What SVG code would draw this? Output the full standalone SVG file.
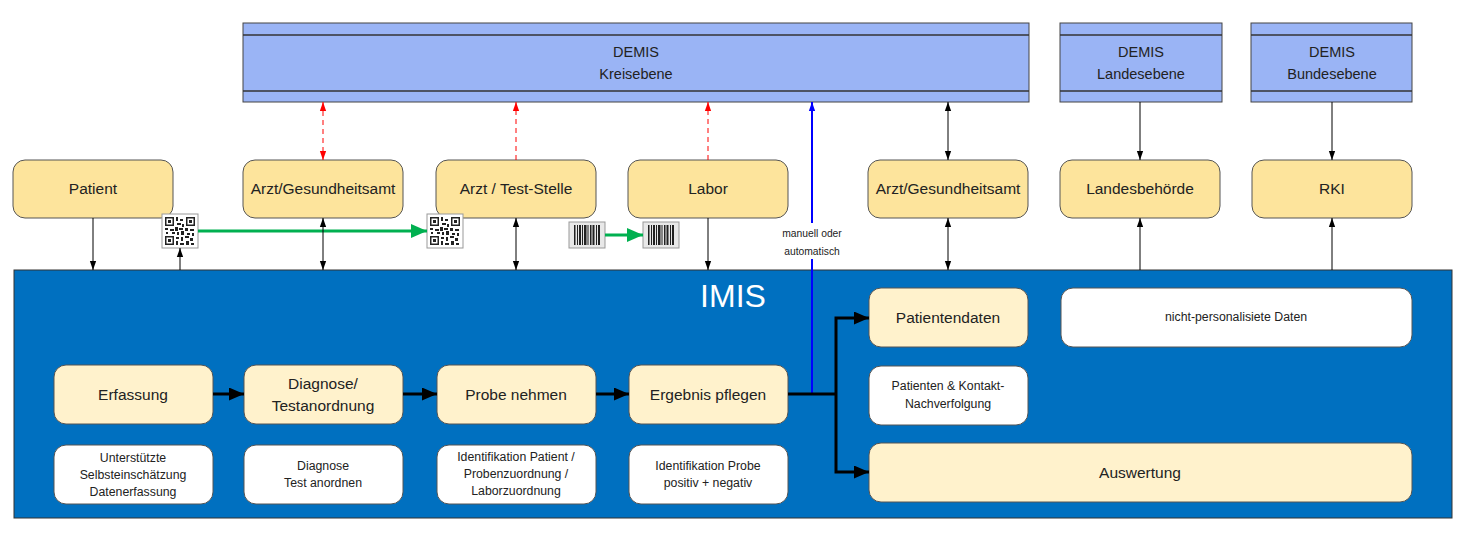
<svg xmlns="http://www.w3.org/2000/svg" width="1465" height="533" viewBox="0 0 1465 533">
<style>
text{font-family:"Liberation Sans",Arial,sans-serif;text-anchor:middle;fill:#222}
.demis{fill:#9ab4f5;stroke:#444;stroke-width:1}
.dl{stroke:#333;stroke-width:1.3}
.top{fill:#fde49c;stroke:#555;stroke-width:1}
.inn{fill:#fff2cc;stroke:#555;stroke-width:1}
.wh{fill:#fff;stroke:#555;stroke-width:1}
.t14{font-size:15.5px}
.t15{font-size:15.5px}
.t11{font-size:12.3px}
.t9{font-size:10.3px}
.dm{font-size:14.5px}
.thin{stroke:#000;stroke-width:1;fill:none}
.red{stroke:#f00;stroke-width:1;stroke-dasharray:5,4;fill:none}
.thick{stroke:#000;stroke-width:3;fill:none}
.grn{stroke:#00b050;stroke-width:3;fill:none}
</style>
<defs>
<marker id="a" viewBox="0 0 10 10" refX="10" refY="5" markerWidth="9" markerHeight="9" markerUnits="userSpaceOnUse" orient="auto-start-reverse"><path d="M0,1.5 L10,5 L0,8.5 z" fill="#000"/></marker>
<marker id="ar" viewBox="0 0 10 10" refX="10" refY="5" markerWidth="9" markerHeight="9" markerUnits="userSpaceOnUse" orient="auto-start-reverse"><path d="M0,1.5 L10,5 L0,8.5 z" fill="#f00"/></marker>
<marker id="ab" viewBox="0 0 10 10" refX="10" refY="5" markerWidth="9" markerHeight="9" markerUnits="userSpaceOnUse" orient="auto"><path d="M0,1.5 L10,5 L0,8.5 z" fill="#00f"/></marker>
<marker id="at" viewBox="0 0 10 10" refX="10" refY="5" markerWidth="15" markerHeight="13" markerUnits="userSpaceOnUse" orient="auto" preserveAspectRatio="none"><path d="M0,0 L10,5 L0,10 z" fill="#000"/></marker>
<marker id="ag" viewBox="0 0 10 10" refX="10" refY="5" markerWidth="16" markerHeight="14" markerUnits="userSpaceOnUse" orient="auto" preserveAspectRatio="none"><path d="M0,0 L10,5 L0,10 z" fill="#00b050"/></marker>
<g id="qr">
<rect x="0" y="0" width="36" height="34" fill="#fff" stroke="#999" stroke-width="1"/>
<g fill="#222">
<rect x="3" y="3" width="9" height="9"/><rect x="24" y="3" width="9" height="9"/><rect x="3" y="22" width="9" height="9"/>
</g>
<g fill="#fff"><rect x="4.5" y="4.5" width="6" height="6"/><rect x="25.5" y="4.5" width="6" height="6"/><rect x="4.5" y="23.5" width="6" height="6"/></g>
<g fill="#222"><rect x="6" y="6" width="3" height="3"/><rect x="27" y="6" width="3" height="3"/><rect x="6" y="25" width="3" height="3"/>
<rect x="14" y="3" width="2" height="4"/><rect x="18" y="5" width="3" height="2"/><rect x="15" y="9" width="4" height="2"/><rect x="20" y="10" width="2" height="3"/>
<rect x="3" y="14" width="3" height="2"/><rect x="8" y="15" width="4" height="2"/><rect x="13" y="13" width="3" height="4"/><rect x="17" y="14" width="4" height="2"/><rect x="23" y="14" width="3" height="3"/><rect x="28" y="15" width="4" height="2"/>
<rect x="4" y="18" width="2" height="2"/><rect x="10" y="18" width="3" height="2"/><rect x="15" y="18" width="2" height="3"/><rect x="19" y="17" width="3" height="4"/><rect x="25" y="19" width="3" height="2"/><rect x="30" y="19" width="2" height="3"/>
<rect x="14" y="23" width="3" height="2"/><rect x="19" y="23" width="2" height="4"/><rect x="23" y="22" width="4" height="2"/><rect x="28" y="24" width="3" height="3"/>
<rect x="14" y="27" width="2" height="4"/><rect x="18" y="29" width="4" height="2"/><rect x="24" y="27" width="3" height="4"/><rect x="29" y="29" width="3" height="2"/>
</g>
</g>
<g id="bc">
<rect x="0" y="0" width="36" height="26" fill="#e8e8e8" stroke="#999" stroke-width="1"/>
<g fill="#222">
<rect x="5" y="3" width="1.5" height="20"/><rect x="8" y="3" width="1" height="20"/><rect x="10" y="3" width="2" height="20"/><rect x="13" y="3" width="1" height="20"/><rect x="15" y="3" width="2.5" height="20"/><rect x="18.5" y="3" width="1" height="20"/><rect x="21" y="3" width="1.5" height="20"/><rect x="23.5" y="3" width="2" height="20"/><rect x="27" y="3" width="1" height="20"/><rect x="29" y="3" width="2" height="20"/>
</g>
</g>
</defs>
<rect width="1465" height="533" fill="#fff"/>

<g id="demis-kreis">
<rect class="demis" x="243" y="23" width="786" height="79"/>
<line class="dl" x1="243" y1="35" x2="1029" y2="35" stroke-width="2"/>
<line class="dl" x1="243" y1="91" x2="1029" y2="91"/>
<text class="dm" x="636" y="57">DEMIS</text>
<text class="dm" x="636" y="79">Kreisebene</text>
</g>
<g id="demis-land">
<rect class="demis" x="1060" y="23" width="162" height="79"/>
<line class="dl" x1="1060" y1="35" x2="1222" y2="35" stroke-width="2"/>
<line class="dl" x1="1060" y1="91" x2="1222" y2="91"/>
<text class="dm" x="1141" y="57">DEMIS</text>
<text class="dm" x="1141" y="79">Landesebene</text>
</g>
<g id="demis-bund">
<rect class="demis" x="1251" y="23" width="161" height="79"/>
<line class="dl" x1="1251" y1="35" x2="1412" y2="35" stroke-width="2"/>
<line class="dl" x1="1251" y1="91" x2="1412" y2="91"/>
<text class="dm" x="1332" y="57">DEMIS</text>
<text class="dm" x="1332" y="79">Bundesebene</text>
</g>

<g id="imis">
<rect x="14" y="270" width="1438" height="248" fill="#0070c0" stroke="#333" stroke-width="1"/>
<text x="733" y="307" font-size="32" style="fill:#fff">IMIS</text>
</g>

<g id="patient"><rect class="top" x="13" y="160" width="160" height="58" rx="12"/><text class="t14" x="93" y="194">Patient</text></g>
<g id="arzt1"><rect class="top" x="243" y="160" width="160" height="58" rx="12"/><text class="t14" x="323" y="194">Arzt/Gesundheitsamt</text></g>
<g id="teststelle"><rect class="top" x="436" y="160" width="160" height="58" rx="12"/><text class="t14" x="516" y="194">Arzt / Test-Stelle</text></g>
<g id="labor"><rect class="top" x="628" y="160" width="160" height="58" rx="12"/><text class="t14" x="708" y="194">Labor</text></g>
<g id="arzt2"><rect class="top" x="868" y="160" width="160" height="58" rx="12"/><text class="t14" x="948" y="194">Arzt/Gesundheitsamt</text></g>
<g id="landesbehoerde"><rect class="top" x="1060" y="160" width="160" height="58" rx="12"/><text class="t14" x="1140" y="194">Landesbehörde</text></g>
<g id="rki"><rect class="top" x="1252" y="160" width="160" height="58" rx="12"/><text class="t14" x="1332" y="194">RKI</text></g>

<g id="erfassung"><rect class="inn" x="54" y="365" width="159" height="59" rx="12"/><text class="t15" x="133" y="400">Erfassung</text></g>
<g id="diagnose"><rect class="inn" x="244" y="365" width="159" height="59" rx="12"/><text class="t15" x="323" y="389">Diagnose/</text><text class="t15" x="323" y="411">Testanordnung</text></g>
<g id="probe"><rect class="inn" x="437" y="365" width="159" height="59" rx="12"/><text class="t15" x="516" y="400">Probe nehmen</text></g>
<g id="ergebnis"><rect class="inn" x="629" y="365" width="159" height="59" rx="12"/><text class="t15" x="708" y="400">Ergebnis pflegen</text></g>

<g id="w1"><rect class="wh" x="54" y="445" width="159" height="59" rx="12"/><text class="t11" x="133" y="462">Unterstützte</text><text class="t11" x="133" y="479">Selbsteinschätzung</text><text class="t11" x="133" y="496">Datenerfassung</text></g>
<g id="w2"><rect class="wh" x="244" y="445" width="159" height="59" rx="12"/><text class="t11" x="323" y="470">Diagnose</text><text class="t11" x="323" y="487">Test anordnen</text></g>
<g id="w3"><rect class="wh" x="437" y="445" width="159" height="59" rx="12"/><text class="t11" x="516" y="461">Identifikation Patient /</text><text class="t11" x="516" y="478">Probenzuordnung /</text><text class="t11" x="516" y="495">Laborzuordnung</text></g>
<g id="w4"><rect class="wh" x="629" y="445" width="159" height="59" rx="12"/><text class="t11" x="708" y="470">Identifikation Probe</text><text class="t11" x="708" y="487">positiv + negativ</text></g>

<g id="patientendaten"><rect class="inn" x="869" y="288" width="159" height="59" rx="12"/><text class="t15" x="948" y="323">Patientendaten</text></g>
<g id="nichtpers"><rect class="wh" x="1061" y="288" width="351" height="59" rx="12"/><text class="t11" x="1236" y="321">nicht-personalisiete Daten</text></g>
<g id="kontakt"><rect class="wh" x="869" y="366" width="159" height="59" rx="12"/><text class="t11" x="948" y="390">Patienten &amp; Kontakt-</text><text class="t11" x="948" y="408">Nachverfolgung</text></g>
<g id="auswertung"><rect class="inn" x="869" y="443" width="543" height="59" rx="12"/><text class="t15" x="1140" y="478">Auswertung</text></g>

<g id="qr1"><use href="#qr" x="162" y="214"/></g>
<g id="qr2"><use href="#qr" x="427" y="214"/></g>
<g id="bc1"><use href="#bc" x="569" y="222"/></g>
<g id="bc2"><use href="#bc" x="643" y="222"/></g>

<g id="connectors">
<line class="thin" x1="93" y1="218" x2="93" y2="270" marker-end="url(#a)"/>
<line class="thin" x1="180" y1="270" x2="180" y2="248" marker-end="url(#a)"/>
<line class="grn" x1="198" y1="231" x2="427" y2="231" marker-end="url(#ag)"/>
<line class="thin" x1="323" y1="218" x2="323" y2="270" marker-start="url(#a)" marker-end="url(#a)"/>
<line class="red" x1="323" y1="102" x2="323" y2="160" marker-start="url(#ar)" marker-end="url(#ar)"/>
<line class="thin" x1="516" y1="218" x2="516" y2="270" marker-start="url(#a)" marker-end="url(#a)"/>
<line class="red" x1="516" y1="160" x2="516" y2="102" marker-end="url(#ar)"/>
<line class="grn" x1="605" y1="235" x2="643" y2="235" marker-end="url(#ag)"/>
<line class="thin" x1="708" y1="218" x2="708" y2="270" marker-end="url(#a)"/>
<line class="red" x1="708" y1="160" x2="708" y2="102" marker-end="url(#ar)"/>
<line x1="812" y1="394" x2="812" y2="102" stroke="#00f" stroke-width="2" marker-end="url(#ab)"/>
<rect x="778" y="223" width="68" height="36" fill="#fff"/>
<text class="t9" x="812" y="237">manuell oder</text>
<text class="t9" x="812" y="255">automatisch</text>
<line class="thin" x1="948" y1="102" x2="948" y2="160" marker-start="url(#a)" marker-end="url(#a)"/>
<line class="thin" x1="948" y1="218" x2="948" y2="270" marker-start="url(#a)" marker-end="url(#a)"/>
<line class="thin" x1="1140" y1="102" x2="1140" y2="160" marker-end="url(#a)"/>
<line class="thin" x1="1140" y1="270" x2="1140" y2="218" marker-end="url(#a)"/>
<line class="thin" x1="1332" y1="102" x2="1332" y2="160" marker-end="url(#a)"/>
<line class="thin" x1="1332" y1="270" x2="1332" y2="218" marker-end="url(#a)"/>
<line class="thick" x1="213" y1="394" x2="244" y2="394" marker-end="url(#at)"/>
<line class="thick" x1="403" y1="394" x2="437" y2="394" marker-end="url(#at)"/>
<line class="thick" x1="596" y1="394" x2="629" y2="394" marker-end="url(#at)"/>
<polyline class="thick" points="788,394 836,394"/>
<polyline class="thick" points="836,394 836,318 869,318" marker-end="url(#at)"/>
<polyline class="thick" points="836,394 836,472 869,472" marker-end="url(#at)"/>
</g>
</svg>
